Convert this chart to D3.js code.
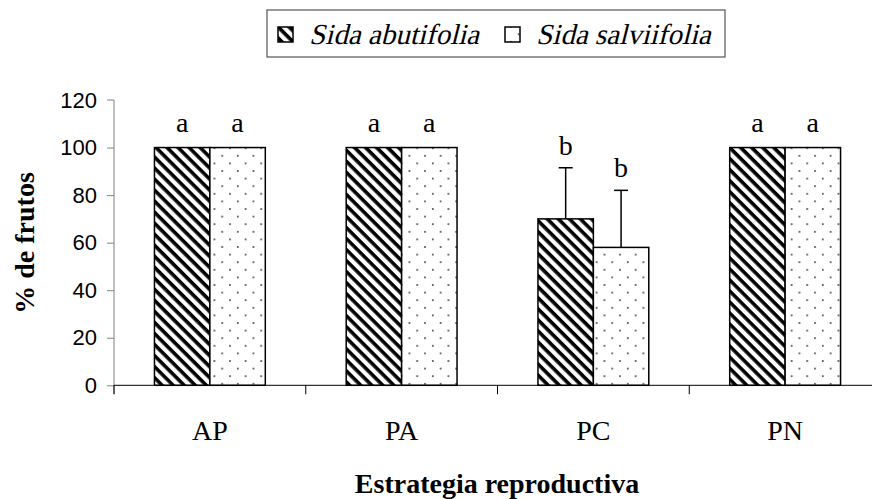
<!DOCTYPE html>
<html>
<head>
<meta charset="utf-8">
<script src="https://cdn.jsdelivr.net/npm/d3@7"></script>
<style>
  body { margin: 0; background: #fff; }
  svg { display: block; }
</style>
</head>
<body>
<script>
var width = 872, height = 499;
var serif = "'Liberation Serif', 'Times New Roman', Times, serif";

// data
var categories = ["AP", "PA", "PC", "PN"];
var series = ["Sida abutifolia", "Sida salviifolia"];
var abutifolia = [100, 100, 70, 100];
var salviifolia = [100, 100, 58, 100];
var errAbutifolia = [0, 0, 21.5, 0];
var errSalviifolia = [0, 0, 24, 0];
var lettersAbutifolia = ["a", "a", "b", "a"];
var lettersSalviifolia = ["a", "a", "b", "a"];
var yTicks = [0, 20, 40, 60, 80, 100, 120];

var rows = [];
categories.forEach(function(c, i) {
  rows.push({cat: c, s: 0, v: abutifolia[i], e: errAbutifolia[i], l: lettersAbutifolia[i]});
  rows.push({cat: c, s: 1, v: salviifolia[i], e: errSalviifolia[i], l: lettersSalviifolia[i]});
});

var svg = d3.select("body").append("svg")
  .attr("width", width)
  .attr("height", height);

var defs = svg.append("defs");

// diagonal hatch "\"
var hatch = defs.append("pattern")
  .attr("id", "hatch")
  .attr("patternUnits", "userSpaceOnUse")
  .attr("width", 7.8)
  .attr("height", 7.8)
  .attr("patternTransform", "rotate(45)");
hatch.append("rect").attr("width", 7.8).attr("height", 7.8).attr("fill", "#fff");
hatch.append("rect").attr("x", 0).attr("width", 7.8).attr("height", 3.6).attr("fill", "#000");

// dots
var dots = defs.append("pattern")
  .attr("id", "dots")
  .attr("patternUnits", "userSpaceOnUse")
  .attr("width", 15.6)
  .attr("height", 15.2);
dots.append("rect").attr("width", 15.6).attr("height", 15.2).attr("fill", "#fff");
dots.append("rect").attr("x", 3).attr("y", 3).attr("width", 1.6).attr("height", 1.6).attr("fill", "#333");
dots.append("rect").attr("x", 10.8).attr("y", 10.6).attr("width", 1.6).attr("height", 1.6).attr("fill", "#333");

var fills = ["url(#hatch)", "url(#dots)"];

var x0 = d3.scaleBand().domain(categories).range([114, 881]).paddingInner(0).paddingOuter(0);
var x1 = d3.scaleBand().domain([0, 1]).range([0, x0.bandwidth()]).paddingInner(0).paddingOuter(0.73);
var y = d3.scaleLinear().domain([0, 120]).range([385.3, 100]);

// y axis
var yAxis = svg.append("g")
  .attr("transform", "translate(114,0)")
  .call(d3.axisLeft(y).tickValues(yTicks).tickSize(7).tickPadding(10));
yAxis.select(".domain").attr("stroke", "#808080").attr("d", "M-7,100H0V394");
yAxis.selectAll(".tick line").attr("stroke", "#808080");
yAxis.selectAll(".tick text")
  .attr("font-family", "'Liberation Sans', Arial, sans-serif")
  .attr("font-size", 22)
  .attr("fill", "#000");
yAxis.selectAll(".tick").filter(function(d) { return d === 120; }).select("line").remove();

// bars
svg.append("g").selectAll("rect")
  .data(rows)
  .join("rect")
  .attr("x", function(d) { return x0(d.cat) + x1(d.s); })
  .attr("y", function(d) { return y(d.v); })
  .attr("width", x1.bandwidth())
  .attr("height", function(d) { return y(0) - y(d.v); })
  .attr("fill", function(d) { return fills[d.s]; })
  .attr("stroke", "#000")
  .attr("stroke-width", 1.5);

// error bars
var errs = svg.append("g").attr("stroke", "#000").attr("stroke-width", 1.5);
rows.filter(function(d) { return d.e > 0; }).forEach(function(d) {
  var cx = x0(d.cat) + x1(d.s) + x1.bandwidth() / 2;
  errs.append("line").attr("x1", cx).attr("x2", cx).attr("y1", y(d.v)).attr("y2", y(d.v + d.e));
  errs.append("line").attr("x1", cx - 7).attr("x2", cx + 7).attr("y1", y(d.v + d.e)).attr("y2", y(d.v + d.e));
});

// letters
svg.append("g").selectAll("text")
  .data(rows)
  .join("text")
  .attr("x", function(d) { return x0(d.cat) + x1(d.s) + x1.bandwidth() / 2; })
  .attr("y", function(d) { return y(d.v + d.e) - (d.e > 0 ? 13 : 16); })
  .attr("text-anchor", "middle")
  .attr("font-family", serif)
  .attr("font-size", 28)
  .text(function(d) { return d.l; });

// x axis
var xAxis = svg.append("g")
  .attr("transform", "translate(0,385.3)");
xAxis.append("line").attr("x1", 114).attr("x2", 881).attr("stroke", "#000");
xAxis.selectAll(".tk")
  .data(categories.concat(["end"]))
  .join("line")
  .attr("x1", function(d, i) { return 114 + i * x0.step(); })
  .attr("x2", function(d, i) { return 114 + i * x0.step(); })
  .attr("y1", 0).attr("y2", 9)
  .attr("stroke", "#000");
xAxis.selectAll(".lbl")
  .data(categories)
  .join("text")
  .attr("x", function(d) { return x0(d) + x0.bandwidth() / 2; })
  .attr("y", 55)
  .attr("text-anchor", "middle")
  .attr("font-family", serif)
  .attr("font-size", 28)
  .text(function(d) { return d; });

// axis titles
svg.append("text")
  .attr("x", 497)
  .attr("y", 493)
  .attr("text-anchor", "middle")
  .attr("font-family", serif)
  .attr("font-weight", "bold")
  .attr("font-size", 28)
  .text("Estrategia reproductiva");

svg.append("text")
  .attr("transform", "translate(34,243) rotate(-90)")
  .attr("text-anchor", "middle")
  .attr("font-family", serif)
  .attr("font-weight", "bold")
  .attr("font-size", 28)
  .text("% de frutos");

// legend
var legend = svg.append("g");
legend.append("rect")
  .attr("x", 267).attr("y", 10).attr("width", 458).attr("height", 47)
  .attr("fill", "#fff").attr("stroke", "#555").attr("stroke-width", 1.2);
var legX = [278, 505];
series.forEach(function(s, i) {
  legend.append("rect")
    .attr("x", legX[i]).attr("y", 27).attr("width", 15).attr("height", 15)
    .attr("fill", fills[i]).attr("stroke", "#000").attr("stroke-width", 1.5);
  // serif italic face is missing, so slant the roman one
  legend.append("text")
    .attr("transform", "translate(" + (legX[i] + 31) + ",43.5) skewX(-14)")
    .attr("font-family", serif)
    .attr("font-size", 29)
    .text(s);
});
</script>
</body>
</html>
